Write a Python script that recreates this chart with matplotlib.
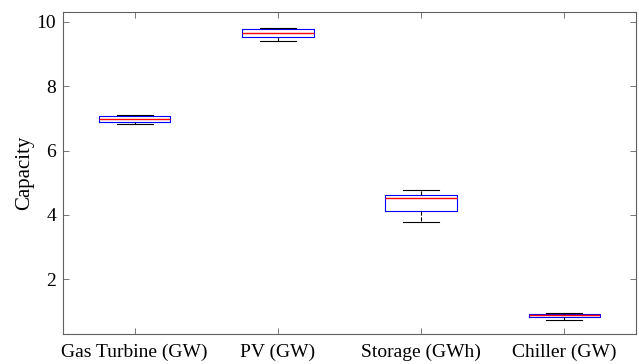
import matplotlib
matplotlib.use('Agg')
import matplotlib.pyplot as plt

# ---------------------------- data ----------------------------
CATEGORIES = ["Gas Turbine (GW)", "PV (GW)", "Storage (GWh)", "Chiller (GW)"]
WHIS_LO = [6.84, 9.42, 3.76, 0.73]
Q1      = [6.88, 9.52, 4.12, 0.81]
MEDIAN  = [6.97, 9.67, 4.51, 0.87]
Q3      = [7.08, 9.77, 4.63, 0.91]
WHIS_HI = [7.10, 9.81, 4.76, 0.93]

plt.rcParams['font.family'] = ['Liberation Serif', 'DejaVu Serif']

stats = []
for lab, lo, a, m, b, hi in zip(CATEGORIES, WHIS_LO, Q1, MEDIAN, Q3, WHIS_HI):
    stats.append({"label": lab, "whislo": lo, "q1": a, "med": m,
                  "q3": b, "whishi": hi, "fliers": []})

fig = plt.figure(figsize=(6.39, 3.64), dpi=100)
ax = fig.add_axes([63 / 639, 1 - 334 / 364, (636 - 63) / 639, (334 - 12) / 364])

ax.bxp(stats, positions=[1, 2, 3, 4], widths=0.5,
       boxprops=dict(color="#0000ff", linewidth=0.8),
       medianprops=dict(color="#ff0000", linewidth=1.0),
       whiskerprops=dict(color="black", linewidth=0.8, linestyle="--"),
       capprops=dict(color="black", linewidth=0.8),
       capwidths=0.25)

ax.set_xlim(0.5, 4.5)
ax.set_ylim(0.29, 10.31)
ax.set_yticks([2, 4, 6, 8, 10])
ax.set_xticks([1, 2, 3, 4])
ax.set_xticklabels(CATEGORIES)
ax.set_ylabel("Capacity", fontsize=15, labelpad=2)
ax.tick_params(direction="in", top=True, right=True, labelsize=14,
               color="#606060", length=4, width=0.6)
ax.tick_params(axis="x", pad=7)
ax.tick_params(axis="y", pad=5)
for s in ax.spines.values():
    s.set_color("#606060")
    s.set_linewidth(0.8)

fig.savefig("out.png", dpi=100)
